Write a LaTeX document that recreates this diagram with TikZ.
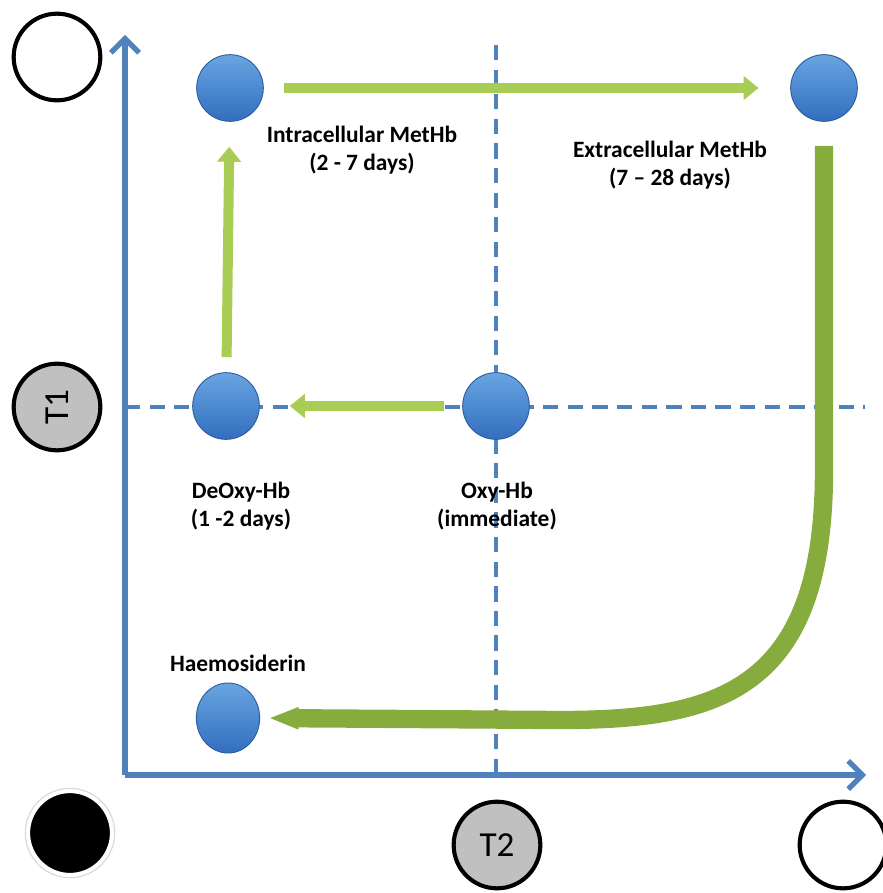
\documentclass[tikz,border=0pt]{standalone}
\usepackage{fontspec}
\setmainfont{Carlito}
\usetikzlibrary{arrows.meta, shapes.geometric}
\definecolor{axisblue}{RGB}{79,129,189}
\definecolor{balltop}{RGB}{105,165,225}
\definecolor{ballbottom}{RGB}{50,110,190}
\definecolor{balledge}{RGB}{45,95,160}
\definecolor{arrowgreen}{RGB}{168,204,84}
\definecolor{arrowdark}{RGB}{135,172,62}
\definecolor{ringgray}{RGB}{192,192,192}
\tikzset{
  hb/.style={circle, top color=balltop, bottom color=ballbottom, draw=balledge, line width=0.8pt, minimum size=2cm, inner sep=0pt},
  lbl/.style={font=\fontsize{20}{24}\selectfont\bfseries, align=center},
  marker/.style={circle, draw=black, line width=3.5pt, minimum size=2.6cm, inner sep=0pt},
  axis/.style={axisblue, line width=4.5pt, -{Straight Barb[width=0.85cm,length=0.42cm]}},
  guide/.style={axisblue, line width=2.8pt, dash pattern=on 13pt off 8pt},
  flow/.style={arrowgreen, line width=0.3cm, -{Triangle[width=0.7cm,length=0.45cm]}},
  bigflow/.style={arrowdark, line width=0.55cm, -{Triangle[width=0.6cm,length=0.9cm]}}
}
\begin{document}
\begin{tikzpicture}[x=0.03cm, y=-0.03cm]
\useasboundingbox (0,0) rectangle (882,893);

% axes and guides
\coordinate (origin) at (125,775);
\coordinate (ytop) at (125,35);
\coordinate (xend) at (866,775);
\coordinate (hleft) at (125,407);
\coordinate (hright) at (865,407);
\coordinate (vtop) at (496,45);
\coordinate (vbot) at (496,775);
\draw[guide] (hleft) -- (hright);
\draw[guide] (vtop) -- (vbot);
\draw[axis] (origin) -- (ytop);
\draw[axis] (origin) -- (xend);

% signal markers
\node[marker, fill=white] (bright1) at (57,57) {};
\node[marker, fill=ringgray, font=\fontsize{30}{30}\selectfont, rotate=90] (t1) at (57,407) {T1};
\node[circle, fill=black, draw=white, line width=3pt, minimum size=2.5cm] (dark) at (70,833) {};
\draw[black!15, line width=1pt] (dark) circle (1.34cm);
\node[marker, fill=ringgray, font=\fontsize{30}{30}\selectfont] (t2) at (497,845) {T2};
\node[marker, fill=white] (bright2) at (843,845) {};

% haemoglobin stages
\node[hb] (intra) at (230,88) {};
\node[hb] (extra) at (824,88) {};
\node[hb] (deoxy) at (226,406) {};
\node[hb] (oxy) at (496,406) {};
\node[hb, ellipse, minimum width=1.9cm, minimum height=2.1cm] (haemo) at (228,718) {};

\node[lbl] (intralbl) at (362,150) {Intracellular MetHb\\(2 - 7 days)};
\node[lbl] (extralbl) at (670,165) {Extracellular MetHb\\(7 -- 28 days)};
\node[lbl] (deoxylbl) at (241,506) {DeOxy-Hb\\(1 -2 days)};
\node[lbl] (oxylbl) at (497,506) {Oxy-Hb\\(immediate)};
\node[lbl] (haemolbl) at (238,663) {Haemosiderin};

\draw[flow, shorten <=0.55cm, shorten >=0.9cm] (oxy) -- (deoxy);
\draw[flow, shorten <=0.45cm, shorten >=0.75cm] (deoxy) -- (intra);
\draw[flow, shorten <=0.6cm, shorten >=0.95cm] (intra) -- (extra);
\draw[bigflow, shorten <=0.72cm, shorten >=0.25cm] (extra) -- (824,470)
  .. controls (824,690) and (720,720) .. (560,720) -- (haemo.east);
\end{tikzpicture}
\end{document}
